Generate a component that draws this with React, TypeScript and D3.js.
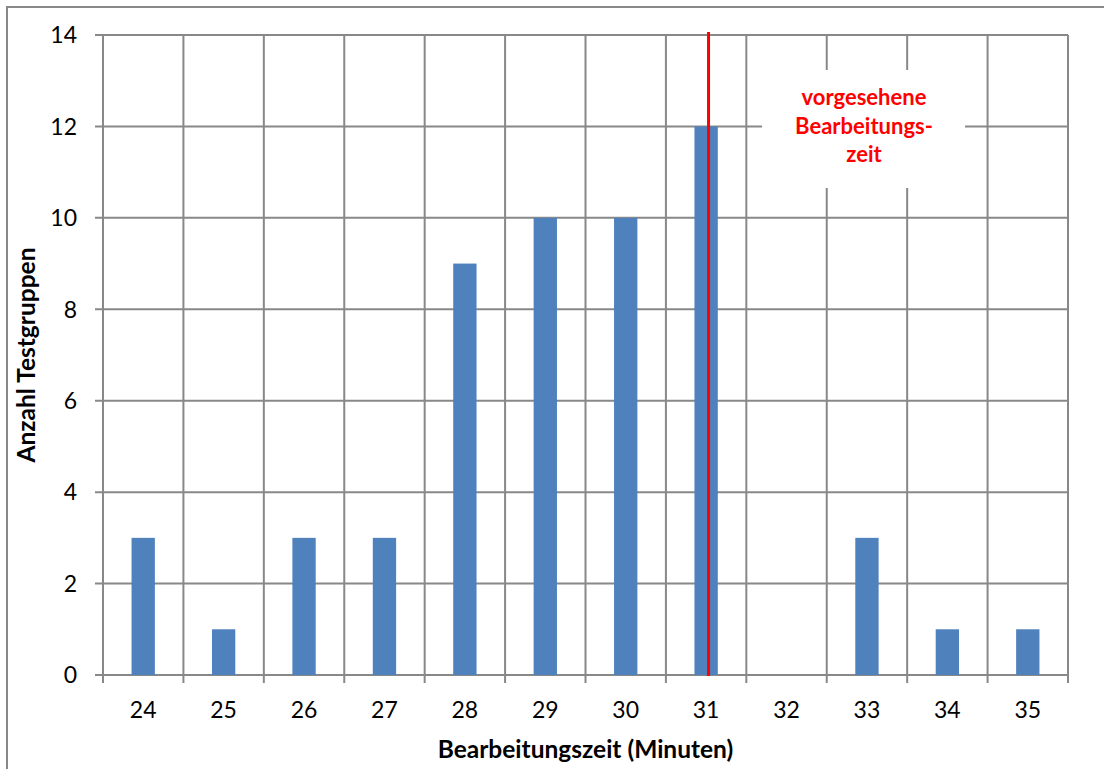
import React from "react";
import * as d3 from "d3";

const categories = ["24", "25", "26", "27", "28", "29", "30", "31", "32", "33", "34", "35"];
const counts = [3, 1, 3, 3, 9, 10, 10, 12, 0, 3, 1, 1];
const yTicks = [0, 2, 4, 6, 8, 10, 12, 14];
const plannedTime = 31.03;
const annotationLines = ["vorgesehene", "Bearbeitungs-", "zeit"];
const xTitle = "Bearbeitungszeit (Minuten)";
const yTitle = "Anzahl Testgruppen";

const W = 1104;
const H = 769;
const M = { left: 103, right: 1068, top: 35, bottom: 675 };
const GRID = "#888888";
const FONT = "Lato, 'Open Sans', sans-serif";

export default function App() {
  const x = d3.scaleBand<string>().domain(categories).range([M.left, M.right]).paddingInner(0).paddingOuter(0);
  const xLin = d3.scaleLinear().domain([23.5, 35.5]).range([M.left, M.right]);
  const y = d3.scaleLinear().domain([0, 14]).range([M.bottom, M.top]);
  const bw = x.bandwidth() * 0.29;
  const boundaries = categories.map((c) => x(c) as number).concat([M.right]);

  return (
    <svg width={W} height={H} style={{ position: "absolute", left: 0, top: 0, background: "#fff" }}>
      <rect x={0} y={0} width={W} height={H} fill="#fff" />
      <rect x={7} y={7} width={W + 100} height={H + 100} fill="none" stroke={GRID} strokeWidth={2} />
      {yTicks.map((t) => (
        <g key={"h" + t}>
          <line x1={M.left - 8} x2={M.right} y1={y(t)} y2={y(t)} stroke={GRID} strokeWidth={2} />
          <text x={77} y={y(t)} dy="0.36em" textAnchor="end" fontFamily={FONT} fontSize={23} fill="#000">
            {t}
          </text>
        </g>
      ))}
      {boundaries.map((b, i) => (
        <line key={"v" + i} x1={b} x2={b} y1={M.top} y2={M.bottom + 8} stroke={GRID} strokeWidth={2} />
      ))}
      <rect x={762} y={70} width={203} height={118} fill="#fff" />
      {categories.map((c, i) => (
        <rect
          key={c}
          x={(x(c) as number) + x.bandwidth() / 2 - bw / 2}
          y={y(counts[i])}
          width={bw}
          height={y(0) - y(counts[i])}
          fill="#4F81BD"
        />
      ))}
      {categories.map((c) => (
        <text
          key={"l" + c}
          x={(x(c) as number) + x.bandwidth() / 2}
          y={718}
          textAnchor="middle"
          fontFamily={FONT}
          fontSize={23}
          fill="#000"
        >
          {c}
        </text>
      ))}
      <line x1={xLin(plannedTime)} x2={xLin(plannedTime)} y1={32} y2={M.bottom + 1} stroke="#FF0000" strokeWidth={3} />
      {annotationLines.map((s, i) => (
        <text
          key={s}
          x={864}
          y={105 + i * 28.5}
          textAnchor="middle"
          fontFamily={FONT}
          fontWeight="bold"
          fontSize={22}
          fill="#FF0000"
        >
          {s}
        </text>
      ))}
      <text x={(M.left + M.right) / 2} y={758} textAnchor="middle" fontFamily={FONT} fontWeight="bold" fontSize={24.5} fill="#000">
        {xTitle}
      </text>
      <text
        transform={`translate(35, ${(M.top + M.bottom) / 2}) rotate(-90)`}
        textAnchor="middle"
        fontFamily={FONT}
        fontWeight="bold"
        fontSize={24.5}
        fill="#000"
      >
        {yTitle}
      </text>
    </svg>
  );
}
